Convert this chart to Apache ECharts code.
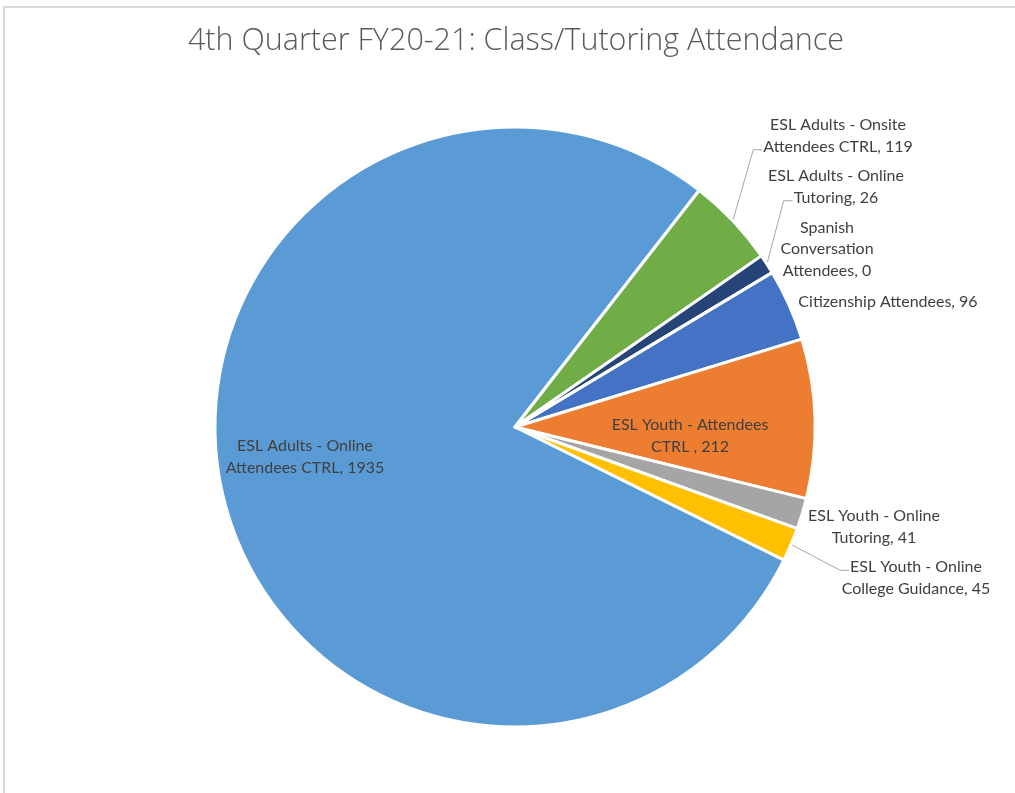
<!DOCTYPE html>
<html>
<head>
<meta charset="utf-8">
<script src="https://cdn.jsdelivr.net/npm/echarts@6/dist/echarts.min.js"></script>
<style>
  html, body { margin: 0; padding: 0; background: #fff; }
  #main { width: 1015px; height: 793px; }
</style>
</head>
<body>
<div id="main"></div>
<script>
// categories in sheet order (Office colour order), line breaks as in the chart labels
var categories = [
    'Citizenship Attendees',
    'ESL Youth - Attendees\nCTRL ',
    'ESL Youth - Online\nTutoring',
    'ESL Youth - Online\nCollege Guidance',
    'ESL Adults - Online\nAttendees CTRL',
    'ESL Adults - Onsite\nAttendees CTRL',
    'ESL Adults - Online\nTutoring',
    'Spanish\nConversation\nAttendees'
];
var attendance = [96, 212, 41, 45, 1935, 119, 26, 0];
var colors = ['#4472C4', '#ED7D31', '#A5A5A5', '#FFC000', '#5B9BD5', '#70AD47', '#264478', '#9E480E'];

// where each data label sits (Excel placed them by hand)
var labelSpots = [
    [888, 302], [690, 436], [874, 527], [916, 578],
    [305, 457], [838, 136], [836, 187], [827, 249]
];
// which text line a leader line runs to (-1 = no leader)
var leaderLine = [-1, -1, -1, 0, -1, 1, 1, -1];

var labelFont = '16px Lato';
var labelLineHeight = 21.5;

var ctx = document.createElement('canvas').getContext('2d');
ctx.font = labelFont;

var myChart = echarts.init(document.getElementById('main'));

var pieData = categories.map(function (name, i) {
    return {
        name: name,
        value: attendance[i],
        itemStyle: { color: colors[i] },
        labelLine: { show: leaderLine[i] >= 0 }
    };
});

var option = {
    animation: false,
    title: {
        text: '4th Quarter FY20-21: Class/Tutoring Attendance',
        left: 511,
        textAlign: 'center',
        top: 21,
        textStyle: {
            fontFamily: 'Open Sans',
            fontWeight: 300,
            fontSize: 30.5,
            color: '#595959'
        }
    },
    graphic: [
        {
            type: 'rect',
            shape: { x: 4, y: 7, width: 1100, height: 900 },
            style: { fill: null, stroke: '#d9d9d9', lineWidth: 2 },
            silent: true
        }
    ],
    series: [
        {
            type: 'pie',
            center: [515, 427],
            radius: 300,
            startAngle: 31,
            clockwise: true,
            stillShowZeroSum: true,
            minShowLabelAngle: 0,
            itemStyle: { borderColor: '#fff', borderWidth: 3 },
            label: {
                show: true,
                formatter: '{b}, {c}',
                fontFamily: 'Lato',
                fontSize: 16,
                lineHeight: labelLineHeight,
                color: '#404040',
                align: 'center',
                overflow: 'none'
            },
            labelLine: {
                show: true,
                lineStyle: { color: '#a6a6a6', width: 1 }
            },
            labelLayout: function (params) {
                var i = params.dataIndex;
                var p = labelSpots[i];
                var out = { x: p[0], y: p[1], align: 'center', verticalAlign: 'middle' };
                var k = leaderLine[i];
                if (k >= 0 && params.labelLinePoints) {
                    var lines = (categories[i] + ', ' + attendance[i]).split('\n');
                    var w = ctx.measureText(lines[k]).width;
                    var top = p[1] - lines.length * labelLineHeight / 2;
                    var ly = top + (k + 0.5) * labelLineHeight + 3;
                    var lx = p[0] - w / 2;
                    out.labelLinePoints = [params.labelLinePoints[0], [lx - 10, ly], [lx - 1, ly]];
                }
                return out;
            },
            data: pieData
        }
    ]
};

myChart.setOption(option);
</script>
</body>
</html>
